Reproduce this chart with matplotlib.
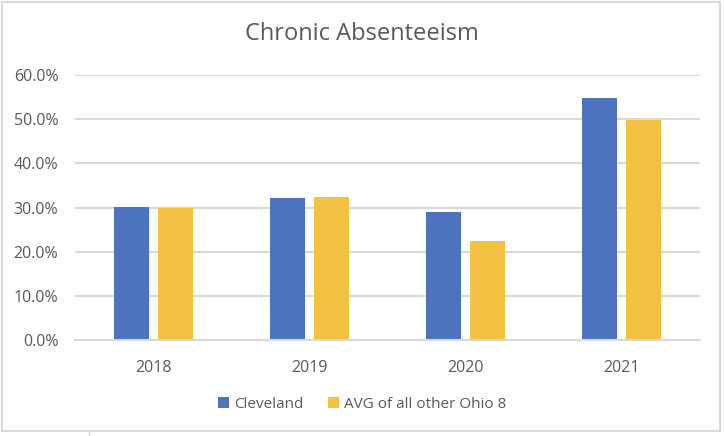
import matplotlib
matplotlib.use("Agg")
import matplotlib.pyplot as plt
import numpy as np
from matplotlib.patches import Rectangle
from matplotlib.lines import Line2D

years = ["2018", "2019", "2020", "2021"]
cleveland = [30.1, 32.2, 29.0, 54.7]
ohio8_avg = [30.0, 32.4, 22.4, 49.8]
series_names = ["Cleveland", "AVG of all other Ohio 8"]
yticks = [0, 10, 20, 30, 40, 50, 60]

BLUE = "#4E73BE"
YELLOW = "#F4C242"
TEXT = "#595959"
GRID = "#D9D9D9"

plt.rcParams['font.family'] = ['Open Sans', 'DejaVu Sans']

fig = plt.figure(figsize=(7.24, 4.36), dpi=100)
W, H = 724, 436
ax = fig.add_axes([75 / W, 1 - 340.3 / H, (700 - 75) / W, (340.3 - 74.7) / H])

x = np.arange(len(years))
bw = 0.225
off = 0.141
ax.bar(x - off, cleveland, bw, color=BLUE, label=series_names[0], zorder=3)
ax.bar(x + off, ohio8_avg, bw, color=YELLOW, label=series_names[1], zorder=3)

ax.set_xlim(-0.5, len(years) - 0.5)
ax.set_ylim(0, 60)
ax.set_yticks(yticks)
ax.set_yticklabels([f"{v:.1f}%" for v in yticks])
ax.set_xticks(x)
ax.set_xticklabels(years)
ax.tick_params(axis='both', length=0, labelsize=11.5, labelcolor=TEXT)
ax.tick_params(axis='y', pad=12)
ax.tick_params(axis='x', pad=14)
ax.grid(axis='y', color=GRID, linewidth=1.5, zorder=0)
for s in ['top', 'right', 'left']:
    ax.spines[s].set_visible(False)
ax.spines['bottom'].set_color(GRID)
ax.spines['bottom'].set_linewidth(1.5)
ax.spines['bottom'].set_zorder(4)

fig.text(0.5, 1 - 34 / H, "Chronic Absenteeism", ha='center', va='center',
         fontsize=17, color=TEXT)

leg = fig.legend(loc='center', bbox_to_anchor=(0.5, 1 - 404 / H), ncol=2, frameon=False,
                 fontsize=11, handlelength=0.75, handleheight=0.75, handletextpad=0.3,
                 columnspacing=1.6, labelcolor=TEXT)

# chart border
fig.add_artist(Rectangle((1.5 / W, 1 - 431 / H), 718 / W, 429 / H, transform=fig.transFigure,
                         fill=False, edgecolor=GRID, linewidth=1.5))
# spreadsheet cell mark outside the chart
fig.add_artist(Line2D([89 / W, 89 / W], [0, 1 - 432 / H], transform=fig.transFigure,
                      color=GRID, linewidth=1))

fig.savefig("out.png", dpi=100)
